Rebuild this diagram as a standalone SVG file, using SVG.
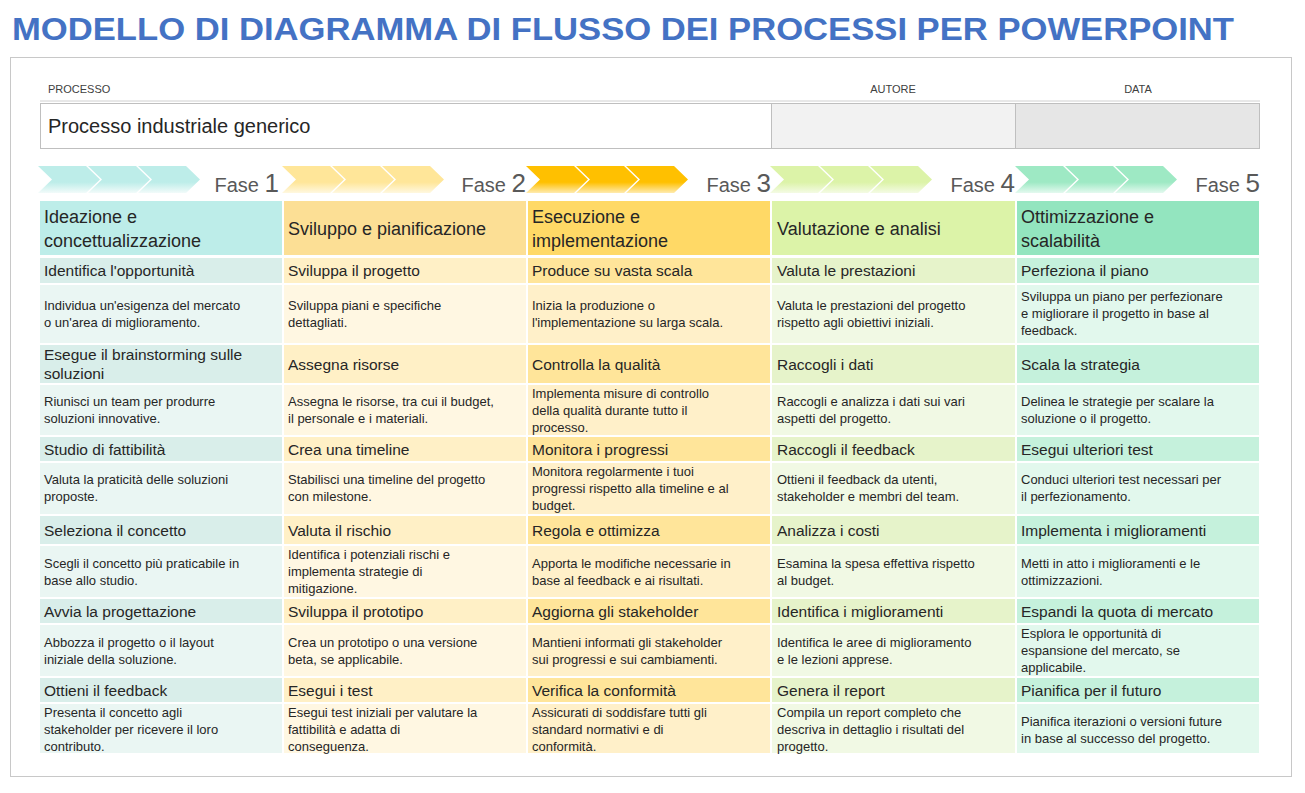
<svg xmlns="http://www.w3.org/2000/svg" width="1305" height="793" viewBox="0 0 1305 793">
<defs>
<linearGradient id="g1" x1="0" y1="0" x2="0" y2="1"><stop offset="0" stop-color="#BDEDE9"/><stop offset="0.6" stop-color="#BDEDE9"/><stop offset="1" stop-color="#F2FBFA"/></linearGradient>
<linearGradient id="g2" x1="0" y1="0" x2="0" y2="1"><stop offset="0" stop-color="#FFE699"/><stop offset="0.6" stop-color="#FFE699"/><stop offset="1" stop-color="#FFF8E0"/></linearGradient>
<linearGradient id="g3" x1="0" y1="0" x2="0" y2="1"><stop offset="0" stop-color="#FFC000"/><stop offset="0.6" stop-color="#FFC000"/><stop offset="1" stop-color="#FFEBB0"/></linearGradient>
<linearGradient id="g4" x1="0" y1="0" x2="0" y2="1"><stop offset="0" stop-color="#DCF3A8"/><stop offset="0.6" stop-color="#DCF3A8"/><stop offset="1" stop-color="#F4FBE4"/></linearGradient>
<linearGradient id="g5" x1="0" y1="0" x2="0" y2="1"><stop offset="0" stop-color="#9EE9C4"/><stop offset="0.6" stop-color="#9EE9C4"/><stop offset="1" stop-color="#E4F9EF"/></linearGradient>
<path id="chev" d="M0,0 H48 L62,13.5 L48,27 H0 L14,13.5 Z"/>
</defs>
<style>
text{font-family:"Liberation Sans",Arial,sans-serif;fill:#262626}
.h{font-size:18px}.t{font-size:15.5px}.d{font-size:13px}
.lbl{font-size:11px;fill:#404040}
.fase{font-size:20px;fill:#595959}.num{font-size:26px;fill:#595959}
.h1{fill:#BDEDE9}.t1{fill:#D9EEEA}.d1{fill:#EAF6F3}
.h2{fill:#FCDF95}.t2{fill:#FFF0C6}.d2{fill:#FFF7E2}
.h3{fill:#FFD966}.t3{fill:#FFE59A}.d3{fill:#FFF0C9}
.h4{fill:#DCF3A8}.t4{fill:#E6F3CA}.d4{fill:#F1F9E4}
.h5{fill:#93E5BF}.t5{fill:#C5F1DC}.d5{fill:#E2F8ED}
</style>
<rect width="1305" height="793" fill="#fff"/>
<text x="12" y="40" style="font-size:31px;font-weight:bold;fill:#4472C4" textLength="1222" lengthAdjust="spacingAndGlyphs">MODELLO DI DIAGRAMMA DI FLUSSO DEI PROCESSI PER POWERPOINT</text>
<rect x="10.5" y="57.5" width="1281" height="719" fill="#fff" stroke="#C8C8C8"/>
<g id="header-fields">
<text x="48" y="93" class="lbl">PROCESSO</text>
<text x="893" y="93" class="lbl" text-anchor="middle">AUTORE</text>
<text x="1138" y="93" class="lbl" text-anchor="middle">DATA</text>
<line x1="40" y1="101" x2="1260" y2="101" stroke="#D0D0D0"/>
<rect x="40.5" y="103.5" width="731" height="45" fill="#fff" stroke="#BFBFBF"/>
<rect x="771.5" y="103.5" width="244" height="45" fill="#F2F2F2" stroke="#BFBFBF"/>
<rect x="1015.5" y="103.5" width="244" height="45" fill="#E6E6E6" stroke="#BFBFBF"/>
<text x="48" y="133" style="font-size:20px;fill:#262626">Processo industriale generico</text>
</g>
<g id="phases">
<g fill="url(#g1)"><use href="#chev" x="38" y="166"/><use href="#chev" x="88" y="166"/><use href="#chev" x="138" y="166"/></g>
<g fill="url(#g2)"><use href="#chev" x="282" y="166"/><use href="#chev" x="332" y="166"/><use href="#chev" x="382" y="166"/></g>
<g fill="url(#g3)"><use href="#chev" x="526" y="166"/><use href="#chev" x="576" y="166"/><use href="#chev" x="626" y="166"/></g>
<g fill="url(#g4)"><use href="#chev" x="770" y="166"/><use href="#chev" x="820" y="166"/><use href="#chev" x="870" y="166"/></g>
<g fill="url(#g5)"><use href="#chev" x="1015" y="166"/><use href="#chev" x="1065" y="166"/><use href="#chev" x="1115" y="166"/></g>
<text x="279" y="192" text-anchor="end"><tspan class="fase">Fase </tspan><tspan class="num">1</tspan></text>
<text x="526" y="192" text-anchor="end"><tspan class="fase">Fase </tspan><tspan class="num">2</tspan></text>
<text x="771" y="192" text-anchor="end"><tspan class="fase">Fase </tspan><tspan class="num">3</tspan></text>
<text x="1015" y="192" text-anchor="end"><tspan class="fase">Fase </tspan><tspan class="num">4</tspan></text>
<text x="1260" y="192" text-anchor="end"><tspan class="fase">Fase </tspan><tspan class="num">5</tspan></text>
</g>
<g id="col1">
<rect x="40" y="201" width="242" height="54" class="h1"/>
<text class="h" x="44" y="223">Ideazione e</text><text class="h" x="44" y="247">concettualizzazione</text>
<rect x="40" y="258" width="242" height="25" class="t1"/><text class="t" x="44" y="276">Identifica l'opportunità</text>
<rect x="40" y="285" width="242" height="58" class="d1"/><text class="d" x="44" y="310">Individua un'esigenza del mercato</text><text class="d" x="44" y="327">o un'area di miglioramento.</text>
<rect x="40" y="345" width="242" height="38" class="t1"/><text class="t" x="44" y="360">Esegue il brainstorming sulle</text><text class="t" x="44" y="379">soluzioni</text>
<rect x="40" y="385" width="242" height="50" class="d1"/><text class="d" x="44" y="406">Riunisci un team per produrre</text><text class="d" x="44" y="423">soluzioni innovative.</text>
<rect x="40" y="437" width="242" height="24" class="t1"/><text class="t" x="44" y="455">Studio di fattibilità</text>
<rect x="40" y="463" width="242" height="51" class="d1"/><text class="d" x="44" y="484">Valuta la praticità delle soluzioni</text><text class="d" x="44" y="501">proposte.</text>
<rect x="40" y="516" width="242" height="28" class="t1"/><text class="t" x="44" y="536">Seleziona il concetto</text>
<rect x="40" y="546" width="242" height="51" class="d1"/><text class="d" x="44" y="568">Scegli il concetto più praticabile in</text><text class="d" x="44" y="585">base allo studio.</text>
<rect x="40" y="599" width="242" height="24" class="t1"/><text class="t" x="44" y="617">Avvia la progettazione</text>
<rect x="40" y="625" width="242" height="51" class="d1"/><text class="d" x="44" y="647">Abbozza il progetto o il layout</text><text class="d" x="44" y="664">iniziale della soluzione.</text>
<rect x="40" y="678" width="242" height="24" class="t1"/><text class="t" x="44" y="696">Ottieni il feedback</text>
<rect x="40" y="704" width="242" height="49" class="d1"/><text class="d" x="44" y="717">Presenta il concetto agli</text><text class="d" x="44" y="734">stakeholder per ricevere il loro</text><text class="d" x="44" y="751">contributo.</text>
</g>
<g id="col2">
<rect x="284" y="201" width="242" height="54" class="h2"/>
<text class="h" x="288" y="235">Sviluppo e pianificazione</text>
<rect x="284" y="258" width="242" height="25" class="t2"/><text class="t" x="288" y="276">Sviluppa il progetto</text>
<rect x="284" y="285" width="242" height="58" class="d2"/><text class="d" x="288" y="310">Sviluppa piani e specifiche</text><text class="d" x="288" y="327">dettagliati.</text>
<rect x="284" y="345" width="242" height="38" class="t2"/><text class="t" x="288" y="370">Assegna risorse</text>
<rect x="284" y="385" width="242" height="50" class="d2"/><text class="d" x="288" y="406">Assegna le risorse, tra cui il budget,</text><text class="d" x="288" y="423">il personale e i materiali.</text>
<rect x="284" y="437" width="242" height="24" class="t2"/><text class="t" x="288" y="455">Crea una timeline</text>
<rect x="284" y="463" width="242" height="51" class="d2"/><text class="d" x="288" y="484">Stabilisci una timeline del progetto</text><text class="d" x="288" y="501">con milestone.</text>
<rect x="284" y="516" width="242" height="28" class="t2"/><text class="t" x="288" y="536">Valuta il rischio</text>
<rect x="284" y="546" width="242" height="51" class="d2"/><text class="d" x="288" y="559">Identifica i potenziali rischi e</text><text class="d" x="288" y="576">implementa strategie di</text><text class="d" x="288" y="593">mitigazione.</text>
<rect x="284" y="599" width="242" height="24" class="t2"/><text class="t" x="288" y="617">Sviluppa il prototipo</text>
<rect x="284" y="625" width="242" height="51" class="d2"/><text class="d" x="288" y="647">Crea un prototipo o una versione</text><text class="d" x="288" y="664">beta, se applicabile.</text>
<rect x="284" y="678" width="242" height="24" class="t2"/><text class="t" x="288" y="696">Esegui i test</text>
<rect x="284" y="704" width="242" height="49" class="d2"/><text class="d" x="288" y="717">Esegui test iniziali per valutare la</text><text class="d" x="288" y="734">fattibilità e adatta di</text><text class="d" x="288" y="751">conseguenza.</text>
</g>
<g id="col3">
<rect x="528" y="201" width="242" height="54" class="h3"/>
<text class="h" x="532" y="223">Esecuzione e</text><text class="h" x="532" y="247">implementazione</text>
<rect x="528" y="258" width="242" height="25" class="t3"/><text class="t" x="532" y="276">Produce su vasta scala</text>
<rect x="528" y="285" width="242" height="58" class="d3"/><text class="d" x="532" y="310">Inizia la produzione o</text><text class="d" x="532" y="327">l'implementazione su larga scala.</text>
<rect x="528" y="345" width="242" height="38" class="t3"/><text class="t" x="532" y="370">Controlla la qualità</text>
<rect x="528" y="385" width="242" height="50" class="d3"/><text class="d" x="532" y="398">Implementa misure di controllo</text><text class="d" x="532" y="415">della qualità durante tutto il</text><text class="d" x="532" y="432">processo.</text>
<rect x="528" y="437" width="242" height="24" class="t3"/><text class="t" x="532" y="455">Monitora i progressi</text>
<rect x="528" y="463" width="242" height="51" class="d3"/><text class="d" x="532" y="476">Monitora regolarmente i tuoi</text><text class="d" x="532" y="493">progressi rispetto alla timeline e al</text><text class="d" x="532" y="510">budget.</text>
<rect x="528" y="516" width="242" height="28" class="t3"/><text class="t" x="532" y="536">Regola e ottimizza</text>
<rect x="528" y="546" width="242" height="51" class="d3"/><text class="d" x="532" y="568">Apporta le modifiche necessarie in</text><text class="d" x="532" y="585">base al feedback e ai risultati.</text>
<rect x="528" y="599" width="242" height="24" class="t3"/><text class="t" x="532" y="617">Aggiorna gli stakeholder</text>
<rect x="528" y="625" width="242" height="51" class="d3"/><text class="d" x="532" y="647">Mantieni informati gli stakeholder</text><text class="d" x="532" y="664">sui progressi e sui cambiamenti.</text>
<rect x="528" y="678" width="242" height="24" class="t3"/><text class="t" x="532" y="696">Verifica la conformità</text>
<rect x="528" y="704" width="242" height="49" class="d3"/><text class="d" x="532" y="717">Assicurati di soddisfare tutti gli</text><text class="d" x="532" y="734">standard normativi e di</text><text class="d" x="532" y="751">conformità.</text>
</g>
<g id="col4">
<rect x="772" y="201" width="243" height="54" class="h4"/>
<text class="h" x="777" y="235">Valutazione e analisi</text>
<rect x="772" y="258" width="243" height="25" class="t4"/><text class="t" x="777" y="276">Valuta le prestazioni</text>
<rect x="772" y="285" width="243" height="58" class="d4"/><text class="d" x="777" y="310">Valuta le prestazioni del progetto</text><text class="d" x="777" y="327">rispetto agli obiettivi iniziali.</text>
<rect x="772" y="345" width="243" height="38" class="t4"/><text class="t" x="777" y="370">Raccogli i dati</text>
<rect x="772" y="385" width="243" height="50" class="d4"/><text class="d" x="777" y="406">Raccogli e analizza i dati sui vari</text><text class="d" x="777" y="423">aspetti del progetto.</text>
<rect x="772" y="437" width="243" height="24" class="t4"/><text class="t" x="777" y="455">Raccogli il feedback</text>
<rect x="772" y="463" width="243" height="51" class="d4"/><text class="d" x="777" y="484">Ottieni il feedback da utenti,</text><text class="d" x="777" y="501">stakeholder e membri del team.</text>
<rect x="772" y="516" width="243" height="28" class="t4"/><text class="t" x="777" y="536">Analizza i costi</text>
<rect x="772" y="546" width="243" height="51" class="d4"/><text class="d" x="777" y="568">Esamina la spesa effettiva rispetto</text><text class="d" x="777" y="585">al budget.</text>
<rect x="772" y="599" width="243" height="24" class="t4"/><text class="t" x="777" y="617">Identifica i miglioramenti</text>
<rect x="772" y="625" width="243" height="51" class="d4"/><text class="d" x="777" y="647">Identifica le aree di miglioramento</text><text class="d" x="777" y="664">e le lezioni apprese.</text>
<rect x="772" y="678" width="243" height="24" class="t4"/><text class="t" x="777" y="696">Genera il report</text>
<rect x="772" y="704" width="243" height="49" class="d4"/><text class="d" x="777" y="717">Compila un report completo che</text><text class="d" x="777" y="734">descriva in dettaglio i risultati del</text><text class="d" x="777" y="751">progetto.</text>
</g>
<g id="col5">
<rect x="1017" y="201" width="242" height="54" class="h5"/>
<text class="h" x="1021" y="223">Ottimizzazione e</text><text class="h" x="1021" y="247">scalabilità</text>
<rect x="1017" y="258" width="242" height="25" class="t5"/><text class="t" x="1021" y="276">Perfeziona il piano</text>
<rect x="1017" y="285" width="242" height="58" class="d5"/><text class="d" x="1021" y="301">Sviluppa un piano per perfezionare</text><text class="d" x="1021" y="318">e migliorare il progetto in base al</text><text class="d" x="1021" y="335">feedback.</text>
<rect x="1017" y="345" width="242" height="38" class="t5"/><text class="t" x="1021" y="370">Scala la strategia</text>
<rect x="1017" y="385" width="242" height="50" class="d5"/><text class="d" x="1021" y="406">Delinea le strategie per scalare la</text><text class="d" x="1021" y="423">soluzione o il progetto.</text>
<rect x="1017" y="437" width="242" height="24" class="t5"/><text class="t" x="1021" y="455">Esegui ulteriori test</text>
<rect x="1017" y="463" width="242" height="51" class="d5"/><text class="d" x="1021" y="484">Conduci ulteriori test necessari per</text><text class="d" x="1021" y="501">il perfezionamento.</text>
<rect x="1017" y="516" width="242" height="28" class="t5"/><text class="t" x="1021" y="536">Implementa i miglioramenti</text>
<rect x="1017" y="546" width="242" height="51" class="d5"/><text class="d" x="1021" y="568">Metti in atto i miglioramenti e le</text><text class="d" x="1021" y="585">ottimizzazioni.</text>
<rect x="1017" y="599" width="242" height="24" class="t5"/><text class="t" x="1021" y="617">Espandi la quota di mercato</text>
<rect x="1017" y="625" width="242" height="51" class="d5"/><text class="d" x="1021" y="638">Esplora le opportunità di</text><text class="d" x="1021" y="655">espansione del mercato, se</text><text class="d" x="1021" y="672">applicabile.</text>
<rect x="1017" y="678" width="242" height="24" class="t5"/><text class="t" x="1021" y="696">Pianifica per il futuro</text>
<rect x="1017" y="704" width="242" height="49" class="d5"/><text class="d" x="1021" y="726">Pianifica iterazioni o versioni future</text><text class="d" x="1021" y="743">in base al successo del progetto.</text>
</g>
<g id="connectors"/>
</svg>
